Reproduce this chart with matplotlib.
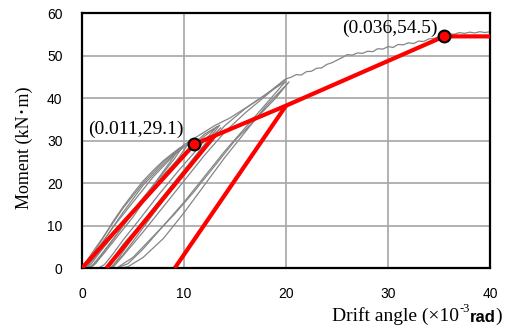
import matplotlib.pyplot as plt

# bilinear model (red)
skel_x = [0, 11, 20, 35.5, 40]
skel_y = [0, 29.1, 38.2, 54.5, 54.5]
unload1_x = [2.4, 13.0]
unload1_y = [0, 31.1]
unload2_x = [9.1, 20.0]
unload2_y = [0, 38.2]
pts_x = [11, 35.5]
pts_y = [29.1, 54.5]
pt_labels = ["(0.011,29.1)", "(0.036,54.5)"]

# test hysteresis curves (gray)
loops = [
    ([0, 1, 2, 3, 4, 5, 6, 7, 8, 9, 10, 9, 8, 7, 6, 5, 4, 3, 2, 1, 0.3],
     [0, 3.6, 7, 10.5, 14, 17, 20, 22.5, 25, 27, 29, 25.5, 22.5, 19.5, 16.5, 13.5, 10.5, 7.5, 4.5, 1.8, 0]),
    ([0.3, 1, 2, 3, 4, 5, 6, 7, 8, 9, 10.5, 9.5, 8, 7, 6, 5, 4, 3, 2, 1.2, 0.6],
     [0, 2.5, 6, 9.5, 12.5, 15.5, 18.5, 21.5, 24, 26.5, 29.5, 26, 21.5, 18.5, 15.5, 12, 9, 6, 3, 0.8, 0]),
    ([0.2, 1, 2, 3, 4, 5, 6, 7, 8, 9, 9.6, 8.5, 7, 6, 5, 4, 3, 2, 1.4, 0.8],
     [0, 3, 6.8, 10.8, 14.3, 17.5, 20.5, 23, 25.3, 27.2, 28.3, 24.5, 19.5, 16.3, 13, 9.8, 6.5, 3.4, 1.2, 0]),
    ([0.6, 2, 4, 6, 8, 10, 12, 13.5, 12, 10, 8, 6, 4, 3, 2.4],
     [0, 4.5, 10.5, 16.5, 22, 27, 31.5, 33.6, 29, 23, 17, 11, 5.5, 2, 0]),
    ([0.8, 2, 4, 6, 8, 10, 12, 13.2, 11.5, 9.5, 7.5, 5.5, 4, 3, 2.2, 1.6],
     [0, 3.5, 9.8, 16, 21.5, 26.5, 31, 33.2, 28.5, 23, 17.2, 11, 6.5, 3.2, 0.8, 0]),
    ([2.4, 3, 4, 6, 8, 10, 12, 13.6, 12, 10, 8, 6, 4.5, 3.5, 2.8],
     [0, 1.5, 4.5, 11, 17, 23, 29, 33, 28.5, 22.5, 16.5, 10.5, 5.5, 2, 0]),
    ([2.8, 4, 6, 8, 10, 12, 14, 16, 18, 20, 18, 16, 14, 12, 10, 8, 6, 4.5, 3.4],
     [0, 3, 9.5, 16, 22, 28, 33.5, 37.5, 40.8, 44, 38.5, 33, 27.5, 21.5, 15.5, 10, 4.5, 1, 0]),
    ([3.4, 5, 7, 9, 11, 13, 15, 17, 19, 20.3, 18, 16, 14, 12, 10, 8, 6, 4.5, 3.8],
     [0, 2.5, 7.5, 12.5, 18, 24, 30, 35, 40, 43.8, 38, 32, 26, 19.5, 13, 7, 2.5, 0.3, 0]),
    ([3.0, 4, 6, 8, 10, 12, 14, 16, 18, 19.8],
     [0, 2.8, 8.5, 14.5, 20.5, 26.5, 32, 36.5, 40.5, 44.2]),
    ([0.5, 2, 4, 6, 8, 10, 12, 13, 14.5, 16.2, 18, 20],
     [0, 6, 13, 19.5, 24.5, 29, 32, 33.5, 35.3, 37.9, 40.8, 44.5]),
]
env_x = [20.0, 20.5, 21.0, 21.5, 22.0, 22.5, 23.0, 23.5, 24.0, 24.5, 25.0,
         25.5, 26.0, 26.5, 27.0, 27.5, 28.0, 28.5, 29.0, 29.5, 30.0, 30.5,
         31.0, 31.5, 32.0, 32.5, 33.0, 33.5, 34.0, 34.5, 35.0, 35.5, 36.0,
         36.5, 37.0, 37.5, 38.0, 38.5, 39.0, 39.5, 40.0]
env_y = [44.5, 44.9, 45.5, 45.4, 46.2, 46.3, 47.0, 47.1, 47.9, 48.3, 48.9,
         49.5, 50.2, 50.1, 50.6, 50.5, 51.0, 50.9, 51.6, 51.5, 52.1, 51.9,
         52.6, 52.5, 53.0, 52.8, 53.4, 53.3, 53.9, 54.0, 54.4, 54.7, 55.1,
         55.0, 55.4, 55.2, 55.5, 55.3, 55.6, 55.4, 55.6]

serif = ['Liberation Serif', 'Noto Sans CJK JP', 'DejaVu Serif']

fig = plt.figure(figsize=(5.07, 3.31), dpi=100)
ax = fig.add_axes([0.1617, 0.1903, 0.8048, 0.7704])

for lx, ly in loops:
    ax.plot(lx, ly, color='#858585', lw=0.9, zorder=2)
ax.plot(env_x, env_y, color='#858585', lw=0.9, zorder=2)

red = '#ff0000'
ax.plot(skel_x, skel_y, color=red, lw=3, zorder=3, solid_capstyle='butt')
ax.plot(unload1_x, unload1_y, color=red, lw=3, zorder=3, solid_capstyle='butt')
ax.plot(unload2_x, unload2_y, color=red, lw=3, zorder=3, solid_capstyle='butt')
ax.plot(pts_x, pts_y, 'o', ms=8.5, mfc=red, mec='black', mew=1.5, zorder=4)

ax.text(0.6, 32.7, pt_labels[0], family=serif, fontsize=14, va='center', ha='left')
ax.text(34.9, 56.5, pt_labels[1], family=serif, fontsize=14, va='center', ha='right')

ax.set_xlim(0, 40)
ax.set_ylim(0, 60)
ax.set_xticks([0, 10, 20, 30, 40])
ax.set_yticks([0, 10, 20, 30, 40, 50, 60])
ax.grid(True, color='#a6a6a6', lw=1.2)
ax.set_axisbelow(True)
for s in ax.spines.values():
    s.set_linewidth(1.6)
ax.tick_params(length=0, pad=14, labelsize=10)
for lab in ax.get_xticklabels() + ax.get_yticklabels():
    lab.set_family('Liberation Sans')

ax.set_ylabel("Moment (kN･m)", family=serif, fontsize=13)
ax.yaxis.set_label_coords(-0.12, 0.47)

t1 = fig.text(0.655, 0.030, "Drift angle (×10", family=serif, fontsize=14, ha='left', va='baseline')
t2 = ax.annotate("-3", xy=(1, 0.55), xycoords=t1, family=serif, fontsize=9, va='bottom', ha='left')
t3 = ax.annotate("rad", xy=(1, 0), xycoords=(t2, t1), family='Liberation Sans', fontsize=12,
                 weight='bold', va='bottom', ha='left')
ax.annotate(")", xy=(1, 0), xycoords=(t3, t1), family=serif, fontsize=14, va='bottom', ha='left')

fig.savefig('out.png', dpi=100)
